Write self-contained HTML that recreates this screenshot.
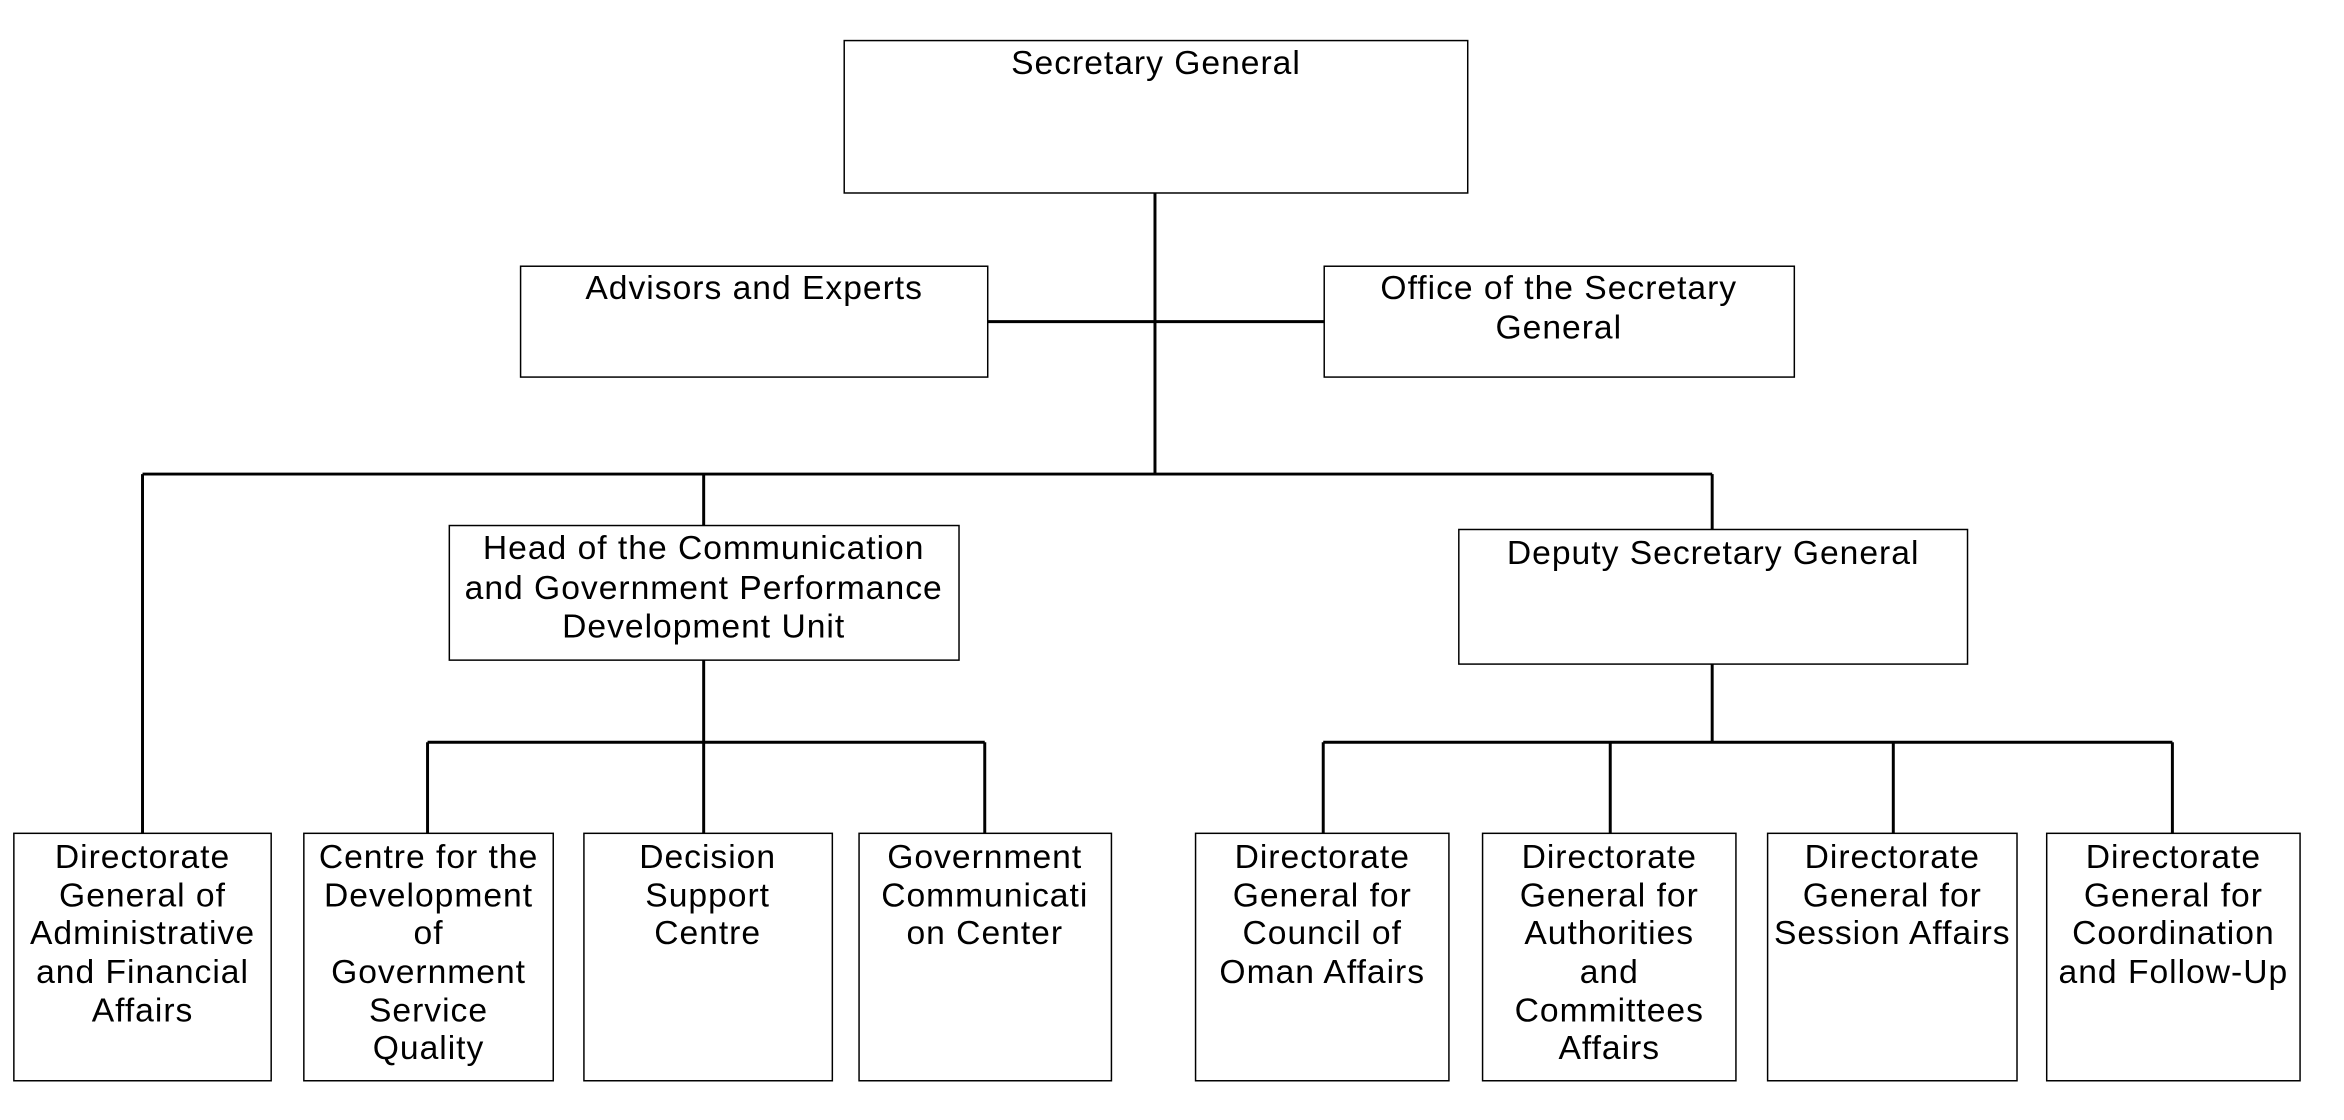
<!DOCTYPE html>
<html><head><meta charset="utf-8"><style>
html,body{margin:0;padding:0;background:#fff;}
svg{display:block;}
text{font-family:"Liberation Sans",sans-serif;font-size:34px;letter-spacing:1px;fill:#000;text-anchor:middle;}
</style></head><body>
<svg width="2344" height="1120" viewBox="0 0 2344 1120" xmlns="http://www.w3.org/2000/svg">
<g transform="scale(0.9897)">
<g stroke="#000" stroke-width="3" fill="none">
<line x1="1167" y1="195" x2="1167" y2="479"/>
<line x1="998" y1="325" x2="1338" y2="325"/>
<line x1="144" y1="479" x2="1730" y2="479"/>
<line x1="144" y1="479" x2="144" y2="842"/>
<line x1="711" y1="479" x2="711" y2="531"/>
<line x1="1730" y1="479" x2="1730" y2="535"/>
<line x1="711" y1="667" x2="711" y2="842"/>
<line x1="432" y1="750" x2="995" y2="750"/>
<line x1="432" y1="750" x2="432" y2="842"/>
<line x1="995" y1="750" x2="995" y2="842"/>
<line x1="1730" y1="671" x2="1730" y2="750"/>
<line x1="1337" y1="750" x2="2195" y2="750"/>
<line x1="1337" y1="750" x2="1337" y2="842"/>
<line x1="1627" y1="750" x2="1627" y2="842"/>
<line x1="1913" y1="750" x2="1913" y2="842"/>
<line x1="2195" y1="750" x2="2195" y2="842"/>
</g>
<g stroke="#000" stroke-width="1.5" fill="#fff">
<rect x="853" y="41" width="630" height="154"/>
<rect x="526" y="269" width="472" height="112"/>
<rect x="1338" y="269" width="475" height="112"/>
<rect x="454" y="531" width="515" height="136"/>
<rect x="1474" y="535" width="514" height="136"/>
<rect x="14" y="842" width="260" height="250"/>
<rect x="307" y="842" width="252" height="250"/>
<rect x="590" y="842" width="251" height="250"/>
<rect x="868" y="842" width="255" height="250"/>
<rect x="1208" y="842" width="256" height="250"/>
<rect x="1498" y="842" width="256" height="250"/>
<rect x="1786" y="842" width="252" height="250"/>
<rect x="2068" y="842" width="256" height="250"/>
</g>
<text x="1168" y="75">Secretary General</text>
<text x="762" y="302">Advisors and Experts</text>
<text x="1575" y="302">Office of the Secretary</text>
<text x="1575" y="342">General</text>
<text x="711" y="565">Head of the Communication</text>
<text x="711" y="605">and Government Performance</text>
<text x="711" y="644">Development Unit</text>
<text x="1731" y="570">Deputy Secretary General</text>
<g>
<text x="144" y="877">Directorate</text><text x="144" y="916">General of</text><text x="144" y="954">Administrative</text><text x="144" y="993">and Financial</text><text x="144" y="1032">Affairs</text>
<text x="433" y="877">Centre for the</text><text x="433" y="916">Development</text><text x="433" y="954">of</text><text x="433" y="993">Government</text><text x="433" y="1032">Service</text><text x="433" y="1070">Quality</text>
<text x="715" y="877">Decision</text><text x="715" y="916">Support</text><text x="715" y="954">Centre</text>
<text x="995" y="877">Government</text><text x="995" y="916">Communicati</text><text x="995" y="954">on Center</text>
<text x="1336" y="877">Directorate</text><text x="1336" y="916">General for</text><text x="1336" y="954">Council of</text><text x="1336" y="993">Oman Affairs</text>
<text x="1626" y="877">Directorate</text><text x="1626" y="916">General for</text><text x="1626" y="954">Authorities</text><text x="1626" y="993">and</text><text x="1626" y="1032">Committees</text><text x="1626" y="1070">Affairs</text>
<text x="1912" y="877">Directorate</text><text x="1912" y="916">General for</text><text x="1912" y="954">Session Affairs</text>
<text x="2196" y="877">Directorate</text><text x="2196" y="916">General for</text><text x="2196" y="954">Coordination</text><text x="2196" y="993">and Follow-Up</text>
</g>
</g>
</svg>
</body></html>
